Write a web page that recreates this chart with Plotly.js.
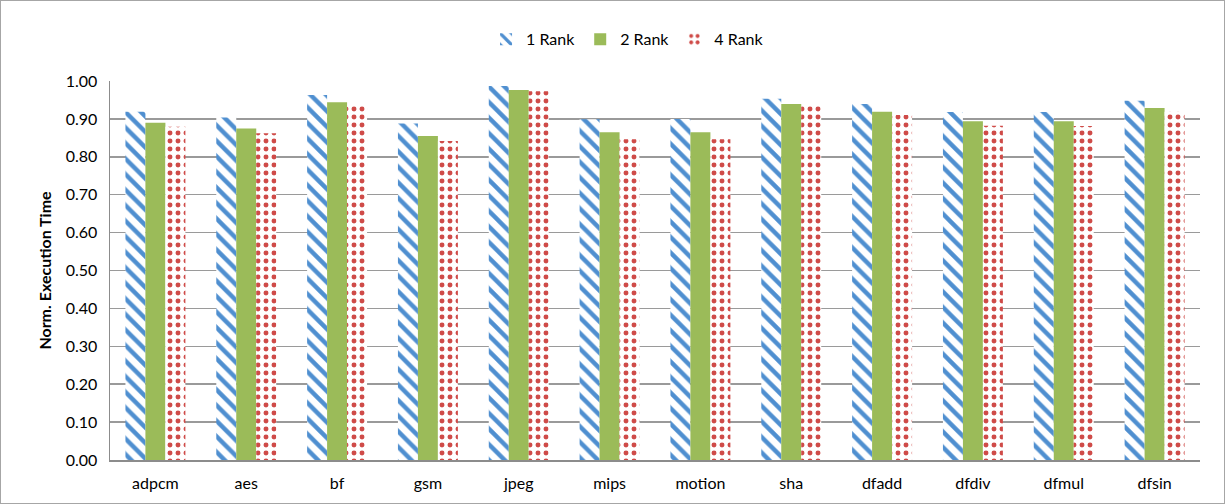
<!DOCTYPE html>
<html>
<head>
<meta charset="utf-8">
<script src="https://cdn.plot.ly/plotly-3.0.1.min.js"></script>
<style>
  html, body { margin: 0; padding: 0; background: #fff; }
  #chart { width: 1223px; height: 502px; border: 1px solid #a6a6a6; }
</style>
</head>
<body>
<div id="chart"></div>
<script>
const categories = ["adpcm", "aes", "bf", "gsm", "jpeg", "mips", "motion", "sha", "dfadd", "dfdiv", "dfmul", "dfsin"];
const rank1 = [0.919, 0.904, 0.963, 0.888, 0.987, 0.899, 0.900, 0.953, 0.939, 0.918, 0.918, 0.948];
const rank2 = [0.890, 0.875, 0.944, 0.855, 0.976, 0.865, 0.865, 0.939, 0.919, 0.894, 0.894, 0.929];
const rank4 = [0.879, 0.862, 0.935, 0.842, 0.973, 0.846, 0.846, 0.934, 0.910, 0.882, 0.881, 0.919];
const seriesNames = ["1 Rank", "2 Rank", "4 Rank"];
const yTicks = [0, 0.1, 0.2, 0.3, 0.4, 0.5, 0.6, 0.7, 0.8, 0.9, 1.0];

const FONT = "Lato, 'Open Sans', sans-serif";

const traces = [
  {
    type: "bar", name: seriesNames[0], x: categories, y: rank1,
    marker: {
      color: "#ffffff",
      line: { width: 0 },
      pattern: { shape: "\\", fgcolor: "#4f8fd0", bgcolor: "#ffffff", fgopacity: 1, size: 11, solidity: 0.4, fillmode: "overlay" }
    }
  },
  {
    type: "bar", name: seriesNames[1], x: categories, y: rank2,
    marker: { color: "#9bbb59", line: { width: 0 } }
  },
  {
    type: "bar", name: seriesNames[2], x: categories, y: rank4,
    marker: {
      color: "#ffffff",
      line: { width: 0 },
      pattern: { shape: ".", fgcolor: "#cf4b48", bgcolor: "#ffffff", fgopacity: 1, size: 8, solidity: 0.3, fillmode: "overlay" }
    }
  }
];

const layout = {
  width: 1223, height: 502,
  margin: { l: 109, r: 24, t: 80, b: 43 },
  paper_bgcolor: "#ffffff", plot_bgcolor: "#ffffff",
  font: { family: FONT, size: 16, color: "#000000" },
  barmode: "group",
  bargap: 0.34,
  bargroupgap: 0,
  showlegend: true,
  legend: {
    orientation: "h", x: 0.345, xanchor: "left", xref: "plot", y: 1.11, yanchor: "middle",
    font: { family: FONT, size: 16, color: "#000" },
    itemwidth: 30, tracegroupgap: 0
  },
  xaxis: {
    type: "category",
    showgrid: false,
    showline: true, linecolor: "#8c8c8c", linewidth: 1.5,
    ticks: "", tickfont: { family: FONT, size: 16 },
    ticklabelstandoff: 8
  },
  yaxis: {
    range: [0, 1],
    tickvals: yTicks,
    tickformat: ".2f",
    showgrid: true, gridcolor: "#9a9a9a", gridwidth: 1.5,
    showline: true, linecolor: "#8c8c8c", linewidth: 1.5,
    zeroline: false,
    ticks: "", tickfont: { family: FONT, size: 16 },
    ticklabelstandoff: 8,
    title: { text: "<b>Norm. Execution Time</b>", font: { family: FONT, size: 16 }, standoff: 10 }
  }
};

Plotly.newPlot("chart", traces, layout, { displayModeBar: false, staticPlot: true });
</script>
</body>
</html>
